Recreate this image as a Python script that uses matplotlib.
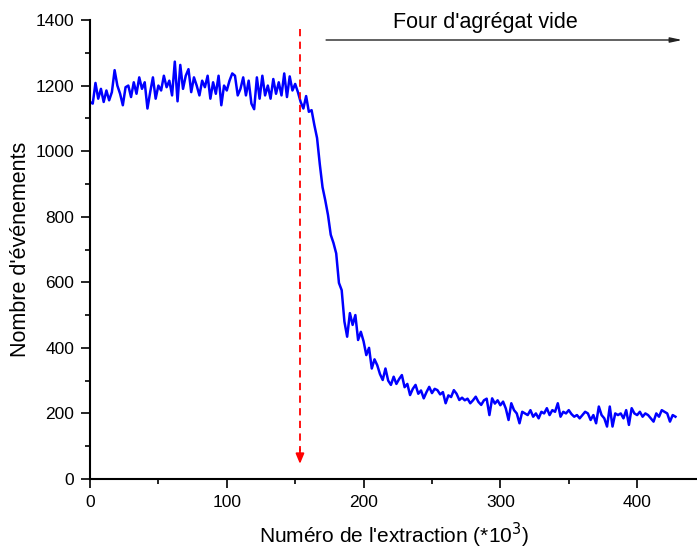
import matplotlib
matplotlib.use("Agg")
import matplotlib.pyplot as plt
import numpy as np

plt.rcParams['font.family'] = ['Liberation Sans', 'DejaVu Sans']

# x in units of 10^3 extractions
extraction = list(range(0, 430, 2))
events = [
    1150, 1145, 1208, 1160, 1190, 1150, 1185, 1155, 1180, 1247,
    1200, 1175, 1140, 1195, 1200, 1165, 1210, 1175, 1225, 1190,
    1210, 1130, 1180, 1225, 1160, 1200, 1185, 1230, 1195, 1215,
    1170, 1273, 1152, 1263, 1190, 1230, 1250, 1180, 1225, 1200,
    1170, 1215, 1195, 1230, 1160, 1210, 1175, 1230, 1140, 1200,
    1185, 1215, 1237, 1230, 1170, 1190, 1225, 1170, 1215, 1145,
    1128, 1225, 1160, 1230, 1170, 1200, 1160, 1220, 1175, 1210,
    1170, 1237, 1165, 1228, 1185, 1205, 1180,
    1150, 1130, 1168, 1120, 1125, 1080, 1040, 960, 890, 850,
    805, 745, 720, 688, 598, 576, 480, 434, 506, 470,
    500, 424, 449, 420, 378, 400, 337, 365, 347, 320,
    302, 337, 300, 287, 312, 290, 305, 317, 280, 290,
    256, 275, 287, 260, 270, 246, 265, 281, 262, 275,
    271, 258, 265, 231, 255, 250, 271, 260, 241, 248,
    240, 245, 231, 240, 251, 235, 226, 240, 245, 195,
    246, 230, 240, 225, 236, 215, 180, 231, 210, 200,
    170, 205, 200, 195, 210, 190, 200, 185, 205, 200,
    216, 195, 210, 205, 231, 190, 205, 200, 210, 198,
    190, 195, 185, 195, 205, 200, 180, 195, 170, 221,
    195, 185, 160, 221, 160, 200, 195, 200, 185, 210,
    165, 216, 200, 195, 205, 190, 200, 195, 185, 175,
    200, 190, 210, 205, 200, 175, 195, 190,
]
n = min(len(extraction), len(events))
extraction = extraction[:n]
events = events[:n]

x_ticks = [0, 100, 200, 300, 400]
y_ticks = [0, 200, 400, 600, 800, 1000, 1200, 1400]

marker_x = 153.5
marker_y = (1372, 46)
label_arrow_x = (172.6, 433)
label_arrow_y = 1339
label_text = "Four d'agrégat vide"
label_pos = (289, 1393)

fig = plt.figure(figsize=(6.97, 5.51), dpi=100)
ax = fig.add_axes([90/697, 72/551, 608/697, 459/551])

ax.plot(extraction, events, color='#0000ff', lw=1.8)

ax.set_xlim(0, 444.5)
ax.set_ylim(0, 1400)
ax.set_xticks(x_ticks)
ax.set_yticks(y_ticks)
ax.set_xticks(np.arange(50, 444, 100), minor=True)
ax.set_yticks(np.arange(100, 1400, 200), minor=True)

for s in ['top', 'right']:
    ax.spines[s].set_visible(False)
for s in ['left', 'bottom']:
    ax.spines[s].set_linewidth(1.5)

ax.tick_params(which='major', direction='out', length=6.5, width=1.2, labelsize=12.5, pad=5)
ax.tick_params(which='minor', direction='out', length=3.5, width=1.2)

ax.set_xlabel("Numéro de l'extraction (*10$^3$)", fontsize=15, labelpad=8)
ax.set_ylabel("Nombre d'événements", fontsize=15.5, labelpad=3)

# red dashed vertical arrow
ax.plot([marker_x, marker_x], [marker_y[0], marker_y[1] + 40], color='red', lw=1.3,
        linestyle=(0, (4, 3)))
ax.annotate('', xy=(marker_x, marker_y[1]), xytext=(marker_x, marker_y[1] + 45),
            arrowprops=dict(arrowstyle='-|>,head_length=0.6,head_width=0.25',
                            color='red', lw=1.3, shrinkA=0, shrinkB=0))

# black horizontal arrow
ax.annotate('', xy=(label_arrow_x[1], label_arrow_y), xytext=(label_arrow_x[0], label_arrow_y),
            arrowprops=dict(arrowstyle='-|>,head_length=0.7,head_width=0.15',
                            color='#222222', lw=1.0, shrinkA=0, shrinkB=0),
            annotation_clip=False)
ax.text(label_pos[0], label_pos[1], label_text, fontsize=15.5, ha='center', va='center')

fig.savefig('out.png', dpi=100)
